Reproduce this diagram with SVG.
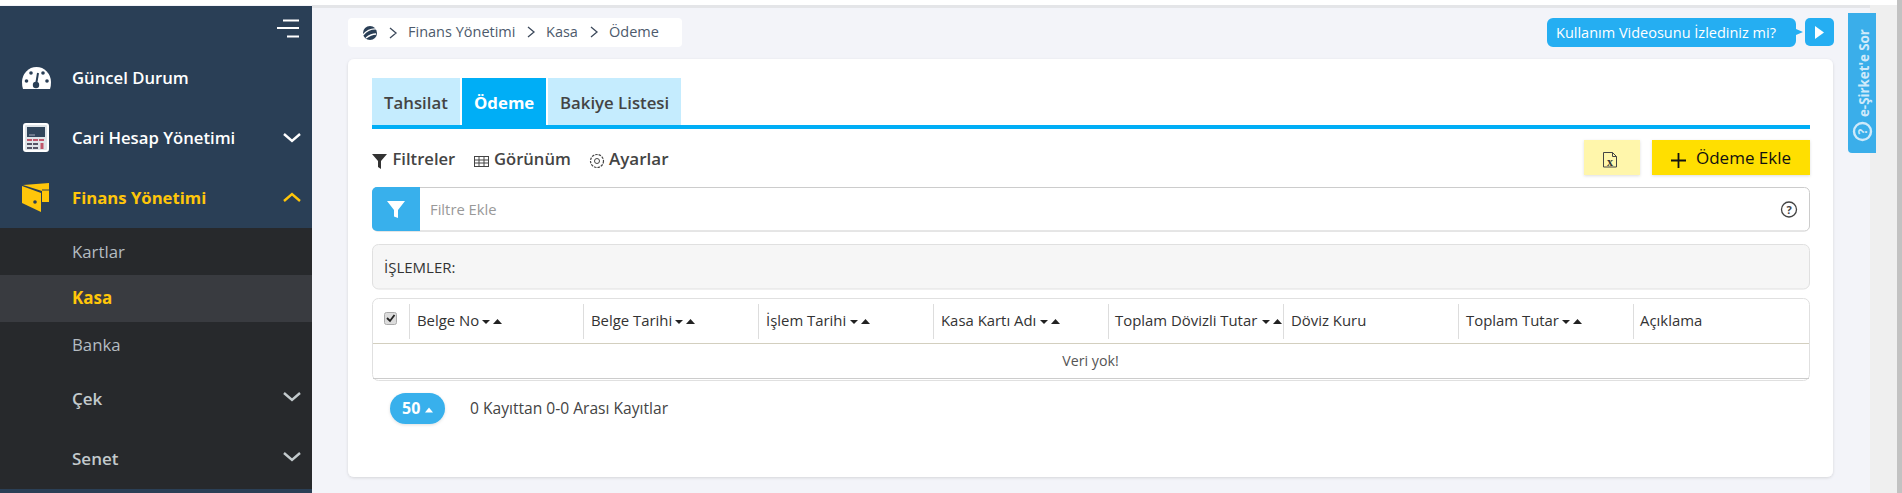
<svg xmlns="http://www.w3.org/2000/svg" width="1902" height="493" viewBox="0 0 1902 493">
<style>
text{font-family:"Open Sans","Noto Sans",sans-serif}
.m{font-size:16.700px;font-weight:600;fill:#fff}
.s{font-size:16.800px;fill:#b4bcc2}
.sb{font-size:17px;font-weight:600;fill:#c3cacd}
.c{font-size:14.900px;fill:#333}
.b{font-size:14.500px;fill:#4d5a6c}
.t{font-size:16.800px;font-weight:600;fill:#444}
.tb{font-size:16.600px;font-weight:600;fill:#444}
.ch{fill:none;stroke-width:2.4}
.sep{stroke:#ddd;stroke-width:1}
</style>
<defs>
<filter id="sh" x="-5%" y="-5%" width="110%" height="115%"><feDropShadow dx="0" dy="1" stdDeviation="1.500" flood-color="#000" flood-opacity=".13"/></filter>
<g id="sort"><path d="M0 0h8l-4 4z" fill="#222"/><path d="M11 4h9l-4.500-5z" fill="#222"/></g>
</defs>
<rect width="1902" height="493" fill="#f3f4f9"/>
<rect x="0" y="0" width="1902" height="5" fill="#fff"/>
<rect x="312" y="5" width="1590" height="3" fill="#e4e5e8"/>
<rect x="1870" y="5" width="27" height="488" fill="#efefef"/>
<rect x="1897" y="0" width="5" height="493" fill="#c2c2c2"/>
<g id="sidebar">
<rect x="0" y="6" width="312" height="487" fill="#2a3f56"/>
<rect x="0" y="228" width="312" height="261" fill="#27292c"/>
<rect x="0" y="275" width="312" height="47" fill="#393b40"/>
<path d="M283 20.500h16M277 28h22M287 36.500h12" stroke="#fff" stroke-width="2" fill="none"/>
</g>
<g id="menu-guncel"><path d="M23 89q-1-3-1-7a14.500 15 0 0 1 29 0q0 4-1 7z" fill="#fff"/><path d="M38 73l-2 12" stroke="#2a3f56" stroke-width="2"/><circle cx="36" cy="85" r="3.200" fill="#2a3f56"/><circle cx="26.500" cy="81" r="1.800" fill="#2a3f56"/><circle cx="31" cy="73" r="1.800" fill="#2a3f56"/><circle cx="43" cy="73" r="1.800" fill="#2a3f56"/><circle cx="47" cy="81" r="1.800" fill="#2a3f56"/><text x="72" y="84" class="m">Güncel Durum</text></g>
<g id="menu-cari"><rect x="24" y="124" width="24" height="27" rx="2" fill="#dfe4e8" stroke="#fff" stroke-width="2"/><rect x="27" y="127" width="18" height="10" fill="#31465c"/><path d="M29 135h6" stroke="#aab" stroke-width="1"/><path d="M27 140h5M33 140h5M39 140h5" stroke="#c0566a" stroke-width="2"/><path d="M27 144h5M33 144h5M27 148h5M33 148h5" stroke="#556" stroke-width="2"/><path d="M42 143v6" stroke="#c0566a" stroke-width="3"/><text x="72" y="144" class="m">Cari Hesap Yönetimi</text><path d="M284 134l8 7 8-7" class="ch" stroke="#fff"/></g>
<g id="menu-finans"><path d="M23 185l26-2v19h-7v-11z" fill="#ffc60a"/><path d="M42 190h7" stroke="#2a3f56" stroke-width="1"/><path d="M22 186l19 7v19l-19-9z" fill="#ffc60a"/><circle cx="35" cy="202" r="1.800" fill="#2a3f56"/><text x="72" y="204" class="m" style="font-weight:700;fill:#ffc60a">Finans Yönetimi</text><path d="M284 201l8-7 8 7" class="ch" stroke="#ffc60a"/></g>
<g id="sub-kartlar"><text x="72" y="258" class="s">Kartlar</text></g>
<g id="sub-kasa"><text x="72" y="304" class="s" style="font-weight:700;fill:#ffc60a;font-size:17px">Kasa</text></g>
<g id="sub-banka"><text x="72" y="351" class="s">Banka</text></g>
<g id="sub-cek"><text x="72" y="405" class="sb">Çek</text><path d="M284 393l8 7 8-7" class="ch" stroke="#c3cacd"/></g>
<g id="sub-senet"><text x="72" y="465" class="sb">Senet</text><path d="M284 453l8 7 8-7" class="ch" stroke="#c3cacd"/></g>
<g id="breadcrumb"><rect x="348" y="18" width="334" height="29" rx="4" fill="#fff"/><circle cx="370" cy="33" r="7" fill="#2a3f56"/><path d="M363 35q6-7 14-6M366 38q5-4 10-4" stroke="#fff" stroke-width="1.300" fill="none"/><path d="M390 28l6 5-6 5M528 27l6 5-6 5M591 27l6 5-6 5" fill="none" stroke="#3d4a5c" stroke-width="1.300"/>
<text x="408" y="37" class="b">Finans Yönetimi</text><text x="546" y="37" class="b">Kasa</text><text x="609" y="37" class="b">Ödeme</text></g>
<g id="video"><path d="M1553 18h237a6 6 0 0 1 6 6v5l7 3-7 3v6a6 6 0 0 1-6 6h-237a6 6 0 0 1-6-6v-17a6 6 0 0 1 6-6z" fill="#25aef2"/><text x="1556" y="37.500" font-size="14.500" fill="#fff">Kullanım Videosunu İzlediniz mi?</text><rect x="1805" y="18" width="29" height="28" rx="5" fill="#25aef2"/><path d="M1815 26l9 6.500-9 6.500z" fill="#fff"/></g>
<g id="esirket"><path d="M1848 13h28v140h-24a4 4 0 0 1-4-4z" fill="#3aaeea"/><text transform="translate(1868.500 117) rotate(-90)" font-size="13.300" font-weight="700" fill="#cfeafa">e-Şirket'e Sor</text><circle cx="1862.500" cy="131.500" r="8.500" fill="none" stroke="#cfeafa" stroke-width="2.400"/><text x="1862.500" y="136" text-anchor="middle" font-size="12" font-weight="700" fill="#cfeafa" transform="rotate(-90 1862.500 131.500)">?</text></g>
<g id="card"><rect x="348" y="59" width="1485" height="418" rx="6" fill="#fff" filter="url(#sh)"/></g>
<g id="tabs"><rect x="372" y="78" width="88" height="48" fill="#c5ecfe"/><rect x="462" y="78" width="84" height="48" fill="#00aef6"/><rect x="548" y="78" width="133" height="48" fill="#c5ecfe"/><rect x="372" y="125" width="1438" height="4" fill="#00aef6"/>
<text x="384" y="109" class="t">Tahsilat</text><text x="474" y="109" class="t" style="fill:#fff;font-weight:700">Ödeme</text><text x="560" y="109" class="t">Bakiye Listesi</text></g>
<g id="toolbar"><path d="M372 154h15l-6 7v8l-3-2v-6z" fill="#333"/><text x="392.500" y="165" class="tb">Filtreler</text>
<g fill="none" stroke="#444" stroke-width="1"><rect x="474.500" y="156.500" width="14" height="10"/><path d="M474.500 160h14M474.500 163h14M479 156.500v10M484 156.500v10"/></g><text x="494" y="165" class="tb">Görünüm</text>
<circle cx="597" cy="161" r="6.500" fill="none" stroke="#444" stroke-width="1.200" stroke-dasharray="2.500 1"/><circle cx="597" cy="161" r="2.500" fill="none" stroke="#444" stroke-width="1"/><text x="609" y="165" class="tb" style="font-size:17px">Ayarlar</text></g>
<g id="excel-btn"><rect x="1584" y="140" width="56" height="35" fill="#fff6ab" filter="url(#sh)"/><path d="M1603.500 152.500h9l4 4v10.500h-13zM1612.500 152.500v4h4" fill="none" stroke="#444"/><text x="1610" y="165.500" text-anchor="middle" font-size="12" font-weight="700" style="font-family:'Liberation Serif',serif" fill="#333">x</text></g>
<g id="add-btn"><rect x="1652" y="140" width="158" height="35" fill="#ffdf00" filter="url(#sh)"/><path d="M1671 160.500h15M1678.500 153v15" stroke="#111" stroke-width="1.800"/><text x="1696" y="164" font-size="17" font-weight="500" fill="#111">Ödeme Ekle</text></g>
<g id="filter"><rect x="372.500" y="187.500" width="1437" height="43.500" rx="5" fill="#fff" stroke="#ccc"/><path d="M377 187h43v44h-43a5 5 0 0 1-5-5v-34a5 5 0 0 1 5-5z" fill="#38b0ec"/><path d="M387 201h18l-7 9v8l-4-1.500v-6.500z" fill="#fff"/><text x="430" y="215" font-size="14.800" fill="#999">Filtre Ekle</text><circle cx="1789" cy="209.500" r="7.500" fill="none" stroke="#444" stroke-width="1.300"/><text x="1789" y="213.500" text-anchor="middle" font-size="11" font-weight="700" fill="#444">?</text></g>
<g id="islemler"><rect x="372.500" y="244.500" width="1437" height="44.500" rx="6" fill="#f6f6f6" stroke="#e0e0e0"/><text x="384" y="273" font-size="15" fill="#333">İŞLEMLER:</text></g>
<g id="table"><rect x="372.500" y="298.500" width="1437" height="82" rx="6" fill="#fff" stroke="#e0e0e0"/><path d="M373 343.500h1436" stroke="#d3cfbf"/><path d="M373 378.500h1436" stroke="#ccc"/>
<path class="sep" d="M409.500 304v35M583.500 304v35M758.500 304v35M933.500 304v35M1108.500 304v35M1283.500 304v35M1458.500 304v35M1633.500 304v35"/>
<rect x="384.500" y="312.500" width="12" height="12" rx="2" fill="#dcdcdc" stroke="#aaa"/><path d="M387 318l3 3 4.500-6" fill="none" stroke="#222" stroke-width="1.800"/>
<text x="417" y="326" class="c">Belge No</text><use href="#sort" x="482" y="320"/>
<text x="591" y="326" class="c">Belge Tarihi</text><use href="#sort" x="675" y="320"/>
<text x="766" y="326" class="c">İşlem Tarihi</text><use href="#sort" x="850" y="320"/>
<text x="941" y="326" class="c">Kasa Kartı Adı</text><use href="#sort" x="1040" y="320"/>
<text x="1115" y="326" class="c">Toplam Dövizli Tutar</text><use href="#sort" x="1262" y="320"/>
<text x="1291" y="326" class="c">Döviz Kuru</text>
<text x="1466" y="326" class="c">Toplam Tutar</text><use href="#sort" x="1562" y="320"/>
<text x="1640" y="326" class="c">Açıklama</text>
<text x="1090.500" y="366" text-anchor="middle" font-size="14.200" fill="#555">Veri yok!</text></g>
<g id="pager"><rect x="390" y="393" width="55" height="31" rx="15.500" fill="#38b0ec" filter="url(#sh)"/><text x="402" y="414" font-size="16" font-weight="700" fill="#fff">50</text><path d="M425 412.500h8l-4-5z" fill="#fff"/><text x="470" y="414" font-size="15.600" fill="#444">0 Kayıttan 0-0 Arası Kayıtlar</text></g>
</svg>
